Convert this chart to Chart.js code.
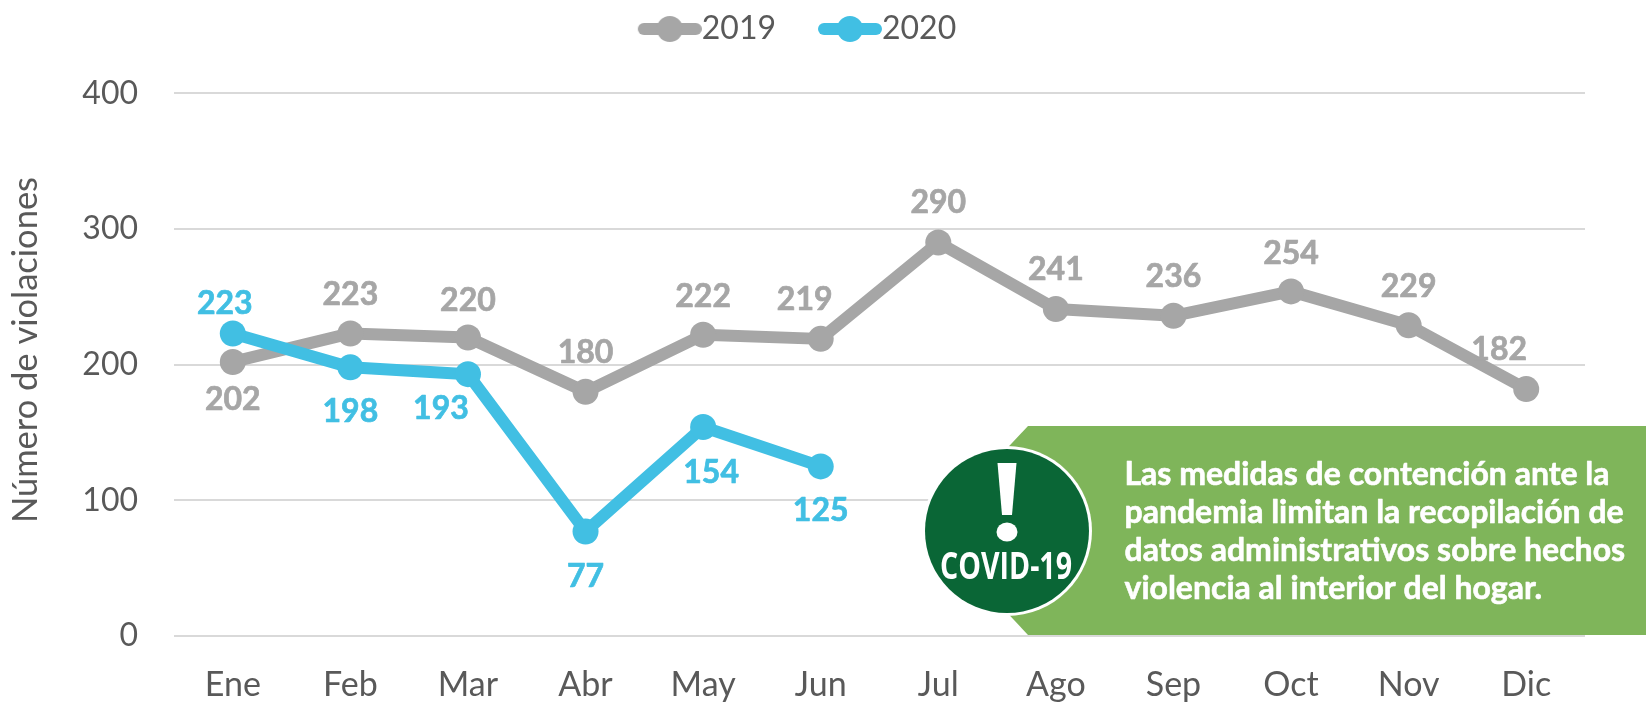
<!DOCTYPE html>
<html>
<head>
<meta charset="utf-8">
<style>html,body{margin:0;padding:0;background:#fff}canvas{display:block}</style>
<script src="https://cdn.jsdelivr.net/npm/chart.js@4"></script>
</head>
<body>
<canvas id="c" width="1646" height="702"></canvas>
<script>
const months = ['Ene','Feb','Mar','Abr','May','Jun','Jul','Ago','Sep','Oct','Nov','Dic'];
const values2019 = [202,223,220,180,222,219,290,241,236,254,229,182];
const values2020 = [223,198,193,77,154,125];
const labelOffset2019 = [[0,38],[0,-39],[0,-37],[0,-39],[0,-38],[-16,-39],[0,-40],[0,-39],[0,-39],[0,-38],[0,-39],[-27,-39]];
const labelOffset2020 = [[-8,-30],[0,44],[-27,35],[0,45],[8,46],[0,44]];
const yAxisTitle = 'Número de violaciones';
const calloutLines = ['Las medidas de contención ante la','pandemia limitan la recopilación de','datos administrativos sobre hechos','violencia al interior del hogar.'];
const badgeText = 'COVID-19';
const GRAY = '#a6a6a6', BLUE = '#41bfe3', TEXT = '#595959', FONT = 'Lato';

function legendSwatch(color){
  const s = document.createElement('canvas'); s.width = 120; s.height = 30;
  const g = s.getContext('2d');
  g.strokeStyle = color; g.fillStyle = color; g.lineWidth = 12; g.lineCap = 'round';
  g.beginPath(); g.moveTo(62,15); g.lineTo(114,15); g.stroke();
  g.beginPath(); g.arc(88,15,13,0,Math.PI*2); g.fill();
  return s;
}

const legendFit = {
  id:'legendFit',
  beforeInit(chart){
    const f = chart.legend.fit;
    chart.legend.fit = function(){
      f.call(this);
      this.height = 82.3;
      this.lineWidths = this.lineWidths.map(w => w + 31);
    };
  }
};

const annotations = {
  id:'annotations',
  afterDatasetsDraw(chart){
    const ctx = chart.ctx;
    ctx.save();
    ctx.textAlign = 'center'; ctx.textBaseline = 'middle';
    ctx.font = `bold 32px ${FONT}`;
    ctx.lineWidth = 0.7; ctx.lineJoin = 'round';
    [[0,labelOffset2019,GRAY,values2019],[1,labelOffset2020,BLUE,values2020]].forEach(([d,off,col,vals])=>{
      const pts = chart.getDatasetMeta(d).data;
      ctx.fillStyle = col; ctx.strokeStyle = col;
      vals.forEach((v,i)=>{
        const x = pts[i].x+off[i][0], y = pts[i].y+off[i][1];
        ctx.fillText(String(v),x,y); ctx.strokeText(String(v),x,y);
      });
    });

    // axis title
    ctx.save();
    ctx.translate(26,350); ctx.rotate(-Math.PI/2);
    ctx.fillStyle = TEXT; ctx.font = `34.5px ${FONT}`;
    ctx.fillText(yAxisTitle,0,0);
    ctx.restore();

    // callout band
    ctx.fillStyle = '#7fb55a';
    ctx.beginPath();
    ctx.moveTo(1646,426); ctx.lineTo(1028,426); ctx.lineTo(930,530); ctx.lineTo(1028,635); ctx.lineTo(1646,635);
    ctx.closePath(); ctx.fill();

    // badge
    ctx.beginPath(); ctx.arc(1007,531,85,0,Math.PI*2);
    ctx.fillStyle = '#fff'; ctx.fill();
    ctx.beginPath(); ctx.arc(1007,531,82,0,Math.PI*2);
    ctx.fillStyle = '#0a6636'; ctx.fill();

    // exclamation
    ctx.fillStyle = '#fff';
    ctx.beginPath();
    ctx.moveTo(997.5,463); ctx.lineTo(1016.5,463); ctx.lineTo(1012,515); ctx.lineTo(1002,515);
    ctx.closePath(); ctx.fill();
    ctx.beginPath(); ctx.ellipse(1007,532,10.5,9.5,0,0,Math.PI*2); ctx.fill();

    ctx.textAlign = 'center'; ctx.textBaseline = 'alphabetic';
    ctx.font = `bold 37px "Open Sans"`;
    ctx.fillText(badgeText,1006,579,132);

    // callout text
    ctx.textAlign = 'left';
    ctx.font = `bold 32px ${FONT}`;
    ctx.strokeStyle = '#fff'; ctx.lineWidth = 0.6;
    const baselines = [485,523,560.5,599];
    calloutLines.forEach((t,i)=>{
      ctx.fillText(t,1124.5,baselines[i]); ctx.strokeText(t,1124.5,baselines[i]);
    });
    ctx.restore();
  }
};

new Chart(document.getElementById('c'),{
  type:'line',
  data:{labels:months,datasets:[
    {label:'2019',data:values2019,borderColor:GRAY,backgroundColor:GRAY,order:2},
    {label:'2020',data:values2020,borderColor:BLUE,backgroundColor:BLUE,order:1}
  ]},
  plugins:[legendFit,annotations],
  options:{
    responsive:false,animation:false,
    layout:{padding:{left:0,right:61,top:11,bottom:0}},
    elements:{
      line:{borderWidth:12,tension:0,borderCapStyle:'round',borderJoinStyle:'round',fill:false},
      point:{radius:13,hoverRadius:13,borderWidth:0}
    },
    plugins:{
      tooltip:{enabled:false},
      legend:{
        position:'top',align:'center',
        labels:{
          usePointStyle:true,pointStyleWidth:88,padding:2,boxHeight:32,
          font:{family:FONT,size:32},color:TEXT,
          generateLabels(){
            return [['2019',GRAY],['2020',BLUE]].map(([t,c],i)=>({
              text:t,fontColor:TEXT,pointStyle:legendSwatch(c),datasetIndex:i,
              fillStyle:c,strokeStyle:c,lineWidth:0,hidden:false
            }));
          }
        }
      }
    },
    scales:{
      x:{
        offset:true,
        grid:{display:false},border:{display:false},
        ticks:{color:TEXT,font:{family:FONT,size:34},padding:21,maxRotation:0,autoSkip:false},
        afterFit(s){s.height=66}
      },
      y:{
        min:0,max:400,
        grid:{color:'#d9d9d9',lineWidth:2,drawTicks:false},border:{display:false},
        ticks:{stepSize:100,color:TEXT,font:{family:FONT,size:32},padding:36},
        afterFit(s){s.width=174}
      }
    }
  }
});
</script>
</body>
</html>
